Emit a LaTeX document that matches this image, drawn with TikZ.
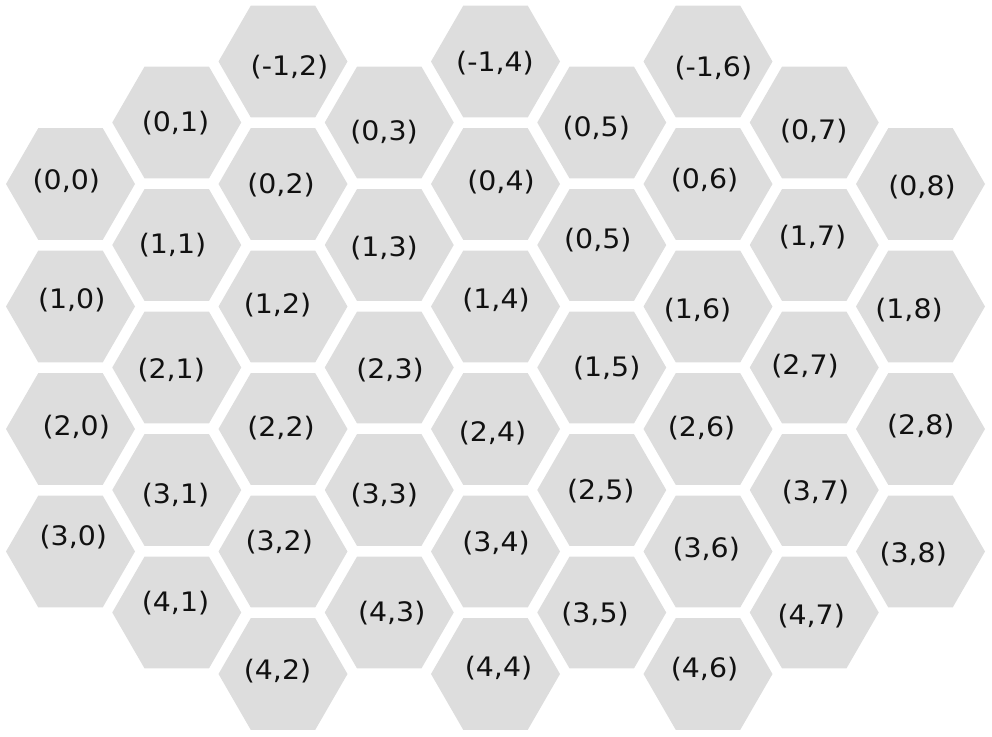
\documentclass[tikz,border=0pt]{standalone}
\usepackage{fontspec}
\newfontfamily\labfont{DejaVu Sans}[FakeStretch=1.06]
\usetikzlibrary{shapes.geometric}
\definecolor{hexgray}{RGB}{221,221,221}
\definecolor{labink}{RGB}{17,17,17}
\begin{document}
\begin{tikzpicture}[x=0.5pt,y=-0.5pt,
  hexcell/.style={regular polygon, regular polygon sides=6, minimum size=64.5pt,
    inner sep=0pt, outer sep=0pt, fill=hexgray, draw=none},
  hexlabel/.style={font=\labfont\fontsize{13.4}{15}\selectfont, text=labink, inner sep=0pt}]
\useasboundingbox (0,0) rectangle (992,736);
\foreach \c/\r/\lr/\lx/\ly [count=\i] in {
  0/0/0/66.3/180.8, 0/1/1/71.7/299.7, 0/2/2/76.2/426.8, 0/3/3/73.3/537.2,
  1/0/0/175.5/123, 1/1/1/172.5/245, 1/2/2/171.2/370, 1/3/3/175.5/495.3, 1/4/4/175.5/603,
  2/-1/-1/289.5/66.7, 2/0/0/281/185, 2/1/1/277.5/305, 2/2/2/281/428.2, 2/3/3/279.2/542, 2/4/4/277.5/671.5,
  3/0/0/384/132.5, 3/1/1/384/247.8, 3/2/2/390/370, 3/3/3/384.2/495.3, 3/4/4/391.7/613,
  4/-1/-1/495/63, 4/0/0/501/182.5, 4/1/1/496/300.3, 4/2/2/492.5/432.7, 4/3/3/496/542.7, 4/4/4/498.5/667.7,
  5/0/0/596.2/128.3, 5/1/0/597.8/240, 5/2/1/606.7/368, 5/3/2/600.8/491, 5/4/3/595/614.3,
  6/-1/-1/713.3/68.3, 6/0/0/704.5/180, 6/1/1/697.5/310, 6/2/2/701.5/427.7, 6/3/3/706.2/548.7, 6/4/4/704.5/669.3,
  7/0/0/813.7/131.2, 7/1/1/812.5/237.3, 7/2/2/805/366, 7/3/3/815.5/492.3, 7/4/4/811.2/616,
  8/0/0/922/186.7, 8/1/1/909/310, 8/2/2/920.8/426, 8/3/3/913.2/554.3}{
  \pgfmathsetmacro\hx{70.5+106.25*\c}
  \pgfmathsetmacro\hy{184-61.5*mod(\c,2)+122.5*\r}
  \node[hexcell] (hex\i) at (\hx,\hy) {};
  \node[hexlabel] (lab\i) at (\lx,\ly) {(\lr,\c)};
}
\end{tikzpicture}
\end{document}
